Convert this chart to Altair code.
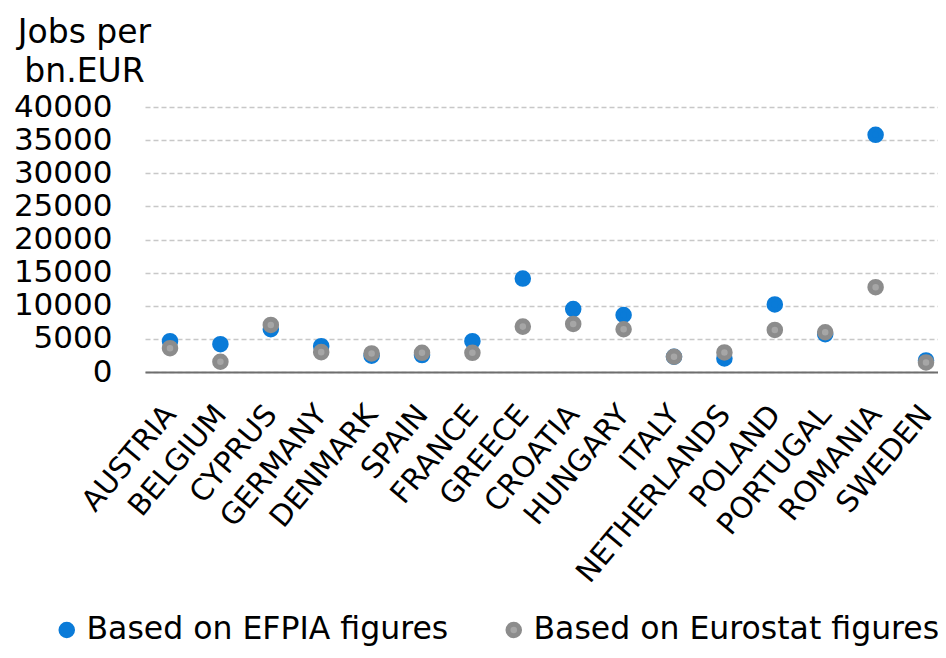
import altair as alt
import pandas as pd

countries = ["AUSTRIA", "BELGIUM", "CYPRUS", "GERMANY", "DENMARK", "SPAIN", "FRANCE",
             "GREECE", "CROATIA", "HUNGARY", "ITALY", "NETHERLANDS", "POLAND",
             "PORTUGAL", "ROMANIA", "SWEDEN"]
efpia = [4650, 4200, 6450, 3900, 2450, 2550, 4650, 14100, 9500, 8600, 2300, 2050,
         10200, 5700, 35800, 1750]
eurostat = [3600, 1550, 7100, 3000, 2800, 2900, 2900, 6850, 7250, 6450, 2300, 2950,
            6350, 6000, 12800, 1450]
series_names = ["Based on EFPIA figures", "Based on Eurostat figures"]
y_ticks = [0, 5000, 10000, 15000, 20000, 25000, 30000, 35000, 40000]

rows = []
for name, vals in zip(series_names, [efpia, eurostat]):
    for c, v in zip(countries, vals):
        rows.append({"country": c, "value": v, "series": name})
df = pd.DataFrame(rows)

FONT = "DejaVu Sans"

chart = alt.Chart(df).mark_point(filled=True, size=133, strokeWidth=5, opacity=1).encode(
    x=alt.X("country:N", sort=countries,
            scale=alt.Scale(padding=0.367, align=0.676),
            axis=alt.Axis(title=None, labelAngle=-50, labelAlign="right", labelBaseline="middle",
                          labelFontSize=29.5, labelFont=FONT, labelColor="#000000",
                          labelPadding=37, ticks=False, domainColor="#6e6e6e",
                          domainWidth=2, grid=False, labelOverlap=False, labelLimit=400)),
    y=alt.Y("value:Q", scale=alt.Scale(domain=[0, 40000], nice=False),
            axis=alt.Axis(values=y_ticks, format="d", title=["Jobs per", "bn.EUR"],
                          titleAngle=0, titleAlign="center", titleBaseline="top",
                          titleX=-61, titleY=-91, titleFontSize=33, titleFont=FONT,
                          titleFontWeight="normal", titleColor="#000000", titleLineHeight=39,
                          labelFontSize=31, labelFont=FONT, labelColor="#000000",
                          labelPadding=33, ticks=False, domain=False,
                          grid=True, gridColor="#c8c8c8", gridDash=[5, 3], gridWidth=1.3)),
    fill=alt.Fill("series:N", scale=alt.Scale(domain=series_names, range=["#0a7bd8", "#a6a6a6"]),
                  title=None,
                  legend=alt.Legend(orient="none", legendX=-94, legendY=507, direction="horizontal",
                                    labelFontSize=31.5, labelFont=FONT, labelColor="#000000",
                                    symbolType="circle", symbolSize=133, symbolStrokeWidth=5,
                                    labelOffset=4, columnPadding=48, padding=0,
                                    labelLimit=500)),
    stroke=alt.Stroke("series:N", scale=alt.Scale(domain=series_names, range=["#0a7bd8", "#8c8c8c"]),
                      title=None),
    order=alt.Order("series:N", sort="ascending"),
).properties(
    width=793, height=265,
    autosize=alt.AutoSizeParams(type="none"),
    padding={"left": 137, "top": 99, "right": 0, "bottom": 278},
).configure(font=FONT).configure_view(stroke=None)

chart.save("out.html", embed_options={"renderer": "svg", "actions": False})
